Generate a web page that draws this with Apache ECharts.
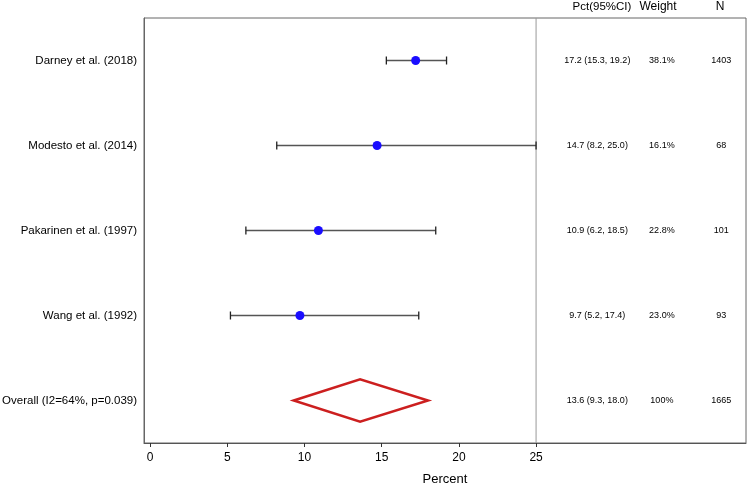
<!DOCTYPE html>
<html>
<head>
<meta charset="utf-8">
<script src="https://cdn.jsdelivr.net/npm/echarts@6/dist/echarts.min.js"></script>
<style>html,body{margin:0;padding:0;background:#fff}#c{width:750px;height:486px}</style>
</head>
<body>
<div id="c"></div>
<script>
// ---- data ----
const rowLabels = ['Darney et al. (2018)', 'Modesto et al. (2014)', 'Pakarinen et al. (1997)', 'Wang et al. (1992)', 'Overall (I2=64%, p=0.039)'];
const estimates = [17.2, 14.7, 10.9, 9.7];
const lowerCI = [15.3, 8.2, 6.2, 5.2];
const upperCI = [19.2, 25.0, 18.5, 17.4];
const pctText = ['17.2 (15.3, 19.2)', '14.7 (8.2, 25.0)', '10.9 (6.2, 18.5)', '9.7 (5.2, 17.4)', '13.6 (9.3, 18.0)'];
const weightText = ['38.1%', '16.1%', '22.8%', '23.0%', '100%'];
const nText = ['1403', '68', '101', '93', '1665'];
const overallEst = 13.6, overallLow = 9.3, overallHigh = 18.0;
const xTicks = [0, 5, 10, 15, 20, 25];
const headers = ['Pct(95%CI)', 'Weight', 'N'];

// ---- layout (text column positions in axis units) ----
const colX = [28.97, 33.15, 37.0];
const headerX = [602, 658, 720];
const headerSize = [11.5, 12, 12];

const chart = echarts.init(document.getElementById('c'));
const FONT = '"Liberation Sans", Arial, sans-serif';

const ciData = estimates.map((e, i) => [lowerCI[i], upperCI[i], i]);
const ptData = estimates.map((e, i) => [e, i]);
const textData = rowLabels.map((r, i) => [i]);

chart.setOption({
  animation: false,
  backgroundColor: '#fff',
  grid: { left: 144, right: 4, top: 18, bottom: 43, show: true, borderColor: '#666', borderWidth: 1, containLabel: false, outerBoundsMode: 'none' },
  xAxis: {
    type: 'value', min: -0.4, max: 38.6,
    splitLine: { show: false },
    axisLine: { show: true, onZero: false, lineStyle: { color: '#555', width: 1 } },
    axisTick: { show: true, length: 4, lineStyle: { color: '#333' }, customValues: xTicks },
    axisLabel: { color: '#000', fontSize: 12, fontFamily: FONT, margin: 9, customValues: xTicks },
    name: 'Percent', nameLocation: 'middle', nameGap: 30,
    nameTextStyle: { color: '#000', fontSize: 13, fontFamily: FONT }
  },
  yAxis: {
    type: 'category', data: rowLabels, inverse: true,
    axisLine: { show: true, onZero: false, lineStyle: { color: '#666' } },
    axisTick: { show: false },
    axisLabel: { color: '#000', fontSize: 11.5, fontFamily: FONT, margin: 7 },
    splitLine: { show: false }
  },
  graphic: headers.map((h, k) => ({
    type: 'text', x: headerX[k], y: 7, silent: true,
    style: { text: h, align: 'center', verticalAlign: 'middle', fill: '#000', font: headerSize[k] + 'px ' + FONT }
  })),
  series: [
    {
      type: 'custom', silent: true, z: 1,
      data: [[25]],
      renderItem: (params, api) => {
        const p = api.coord([api.value(0), 0]);
        const rect = params.coordSys;
        return { type: 'line', shape: { x1: p[0], y1: rect.y, x2: p[0], y2: rect.y + rect.height }, style: { stroke: '#999', lineWidth: 1 } };
      }
    },
    {
      type: 'custom', silent: true, z: 2,
      data: ciData,
      renderItem: (params, api) => {
        const a = api.coord([api.value(0), api.value(2)]);
        const b = api.coord([api.value(1), api.value(2)]);
        const c = 4;
        const st = { stroke: '#555', lineWidth: 1.3 };
        return { type: 'group', children: [
          { type: 'line', shape: { x1: a[0], y1: a[1], x2: b[0], y2: b[1] }, style: st },
          { type: 'line', shape: { x1: a[0], y1: a[1] - c, x2: a[0], y2: a[1] + c }, style: { stroke: '#222', lineWidth: 1.3 } },
          { type: 'line', shape: { x1: b[0], y1: b[1] - c, x2: b[0], y2: b[1] + c }, style: { stroke: '#222', lineWidth: 1.3 } }
        ]};
      }
    },
    {
      type: 'scatter', z: 3, symbol: 'circle', symbolSize: 9,
      itemStyle: { color: '#1a0dff', opacity: 1 },
      data: ptData
    },
    {
      type: 'custom', silent: true, z: 3,
      data: [[overallLow, overallEst, overallHigh, 4]],
      renderItem: (params, api) => {
        const idx = api.value(3);
        const l = api.coord([api.value(0), idx]);
        const m = api.coord([api.value(1), idx]);
        const r = api.coord([api.value(2), idx]);
        const h = api.size([0, 1])[1] * 0.25;
        return { type: 'polygon', shape: { points: [[l[0], l[1]], [m[0], m[1] - h], [r[0], r[1]], [m[0], m[1] + h]] },
          style: { fill: 'none', stroke: '#cc1f1f', lineWidth: 2.5, lineJoin: 'miter' } };
      }
    },
    {
      type: 'custom', silent: true, z: 4,
      data: textData,
      renderItem: (params, api) => {
        const i = api.value(0);
        const texts = [pctText[i], weightText[i], nText[i]];
        return { type: 'group', children: texts.map((t, k) => {
          const p = api.coord([colX[k], i]);
          return { type: 'text', style: { text: t, x: p[0], y: p[1], align: 'center', verticalAlign: 'middle', fill: '#000', font: '9px ' + FONT } };
        })};
      }
    }
  ]
});
</script>
</body>
</html>
